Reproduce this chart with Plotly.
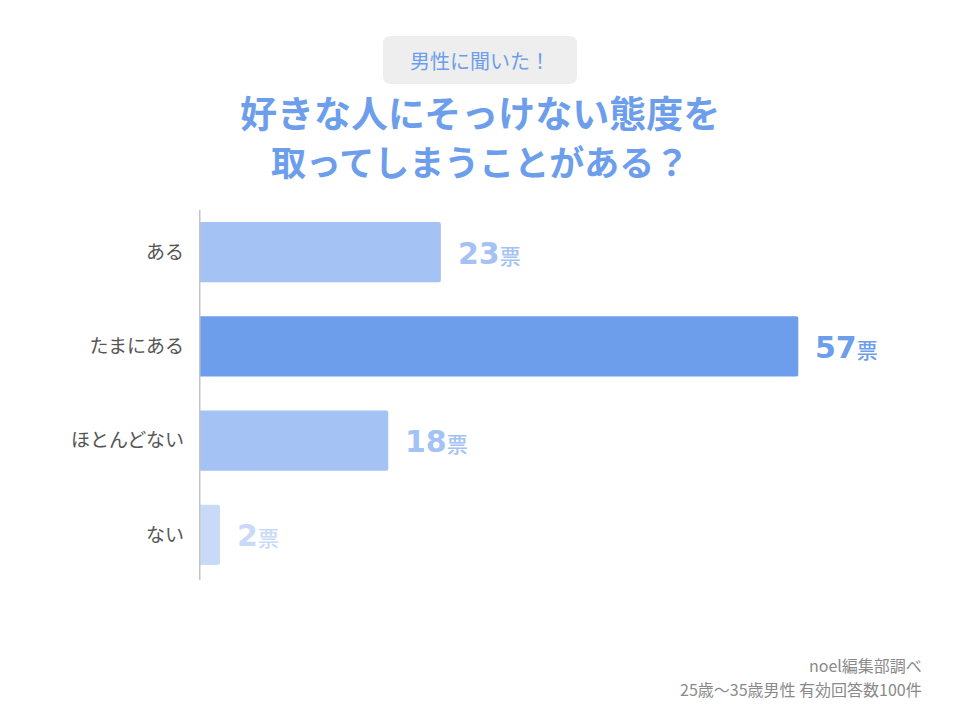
import plotly.graph_objects as go

categories = ["ある", "たまにある", "ほとんどない", "ない"]
values = [23, 57, 18, 2]
unit = "票"
bar_colors = ["#a4c2f4", "#6d9eeb", "#a4c2f4", "#c9daf8"]
title_lines = ["好きな人にそっけない態度を", "取ってしまうことがある？"]
badge_text = "男性に聞いた！"
footer_lines = ["noel編集部調べ", "25歳〜35歳男性 有効回答数100件"]

NUMFONT = "DejaVu Sans, Noto Sans CJK JP, sans-serif"
CJK = "Noto Sans CJK JP, sans-serif"

W, H = 960, 720
L, R, T, B = 199, 25, 205, 138
PW, PH = W - L - R, H - T - B


def px(x):
    return (x - L) / PW


def py(y):
    return (H - B - y) / PH


def rounded_rect(x0, y0, x1, y1, r):
    # pixel coords -> paper-coordinate SVG path with rounded corners
    pts = [
        f"M {px(x0 + r)} {py(y0)}",
        f"L {px(x1 - r)} {py(y0)}",
        f"Q {px(x1)} {py(y0)} {px(x1)} {py(y0 + r)}",
        f"L {px(x1)} {py(y1 - r)}",
        f"Q {px(x1)} {py(y1)} {px(x1 - r)} {py(y1)}",
        f"L {px(x0 + r)} {py(y1)}",
        f"Q {px(x0)} {py(y1)} {px(x0)} {py(y1 - r)}",
        f"L {px(x0)} {py(y0 + r)}",
        f"Q {px(x0)} {py(y0)} {px(x0 + r)} {py(y0)}",
        "Z",
    ]
    return " ".join(pts)


fig = go.Figure()
fig.add_trace(go.Bar(
    x=values, y=categories, orientation="h",
    marker=dict(color=bar_colors, line=dict(width=0)),
    width=0.64, hoverinfo="skip",
))

for v, c, col in zip(values, categories, bar_colors):
    fig.add_annotation(
        x=v, y=c, xref="x", yref="y", xanchor="left", yanchor="middle",
        xshift=15, yshift=-1, showarrow=False,
        text=(f"<span style='font-size:30px;font-weight:bold'>{v}</span>"
              f"<span style='font-size:21px;font-family:Noto Sans CJK JP;font-weight:500'>{unit}</span>"),
        font=dict(family=NUMFONT, color=col, size=30),
    )

# title
title_sizes = [37, 35]
fig.add_annotation(
    x=px(480), y=py(136), xref="paper", yref="paper", xanchor="center", yanchor="middle",
    text="<b>" + "<br>".join(f"<span style='font-size:{s}px'>{t}</span>"
                             for t, s in zip(title_lines, title_sizes)) + "</b>",
    showarrow=False,
    font=dict(family=CJK, size=37, color="#6d9eeb"), align="center",
)

# badge
fig.add_shape(type="path", xref="paper", yref="paper",
              path=rounded_rect(383, 36, 577, 84, 8),
              fillcolor="#eeeeee", line=dict(width=0), layer="below")
fig.add_annotation(
    x=px(480), y=py(60), xref="paper", yref="paper", xanchor="center", yanchor="middle",
    text=badge_text, showarrow=False, font=dict(family=CJK, size=20, color="#6d9eeb"),
)

# footer (one annotation per line)
for line, ypix in zip(footer_lines, [665, 689]):
    fig.add_annotation(
        x=px(924), y=py(ypix), xref="paper", yref="paper", xanchor="right", yanchor="middle",
        text=line, showarrow=False, align="right",
        font=dict(family=CJK, size=16, color="#8a8a8a"),
    )

# axis line
fig.add_shape(type="line", xref="x", yref="paper", x0=0, x1=0, y0=py(580), y1=py(210),
              line=dict(color="#c4c4c4", width=3), layer="above")

fig.update_layout(
    width=W, height=H,
    margin=dict(l=L, r=R, t=T, b=B),
    paper_bgcolor="white", plot_bgcolor="white",
    showlegend=False,
    barcornerradius=2,
    xaxis=dict(range=[0, 70], visible=False, fixedrange=True),
    yaxis=dict(autorange=False, range=[3.5, -0.5], showgrid=False, zeroline=False,
               showline=False, ticks="", ticklabelstandoff=14, automargin=False,
               tickfont=dict(family=CJK, size=19, color="#555555")),
    font=dict(family=CJK),
)

fig.write_html("out.html", config={"displayModeBar": False},
               post_script="document.body.style.margin='0';")
